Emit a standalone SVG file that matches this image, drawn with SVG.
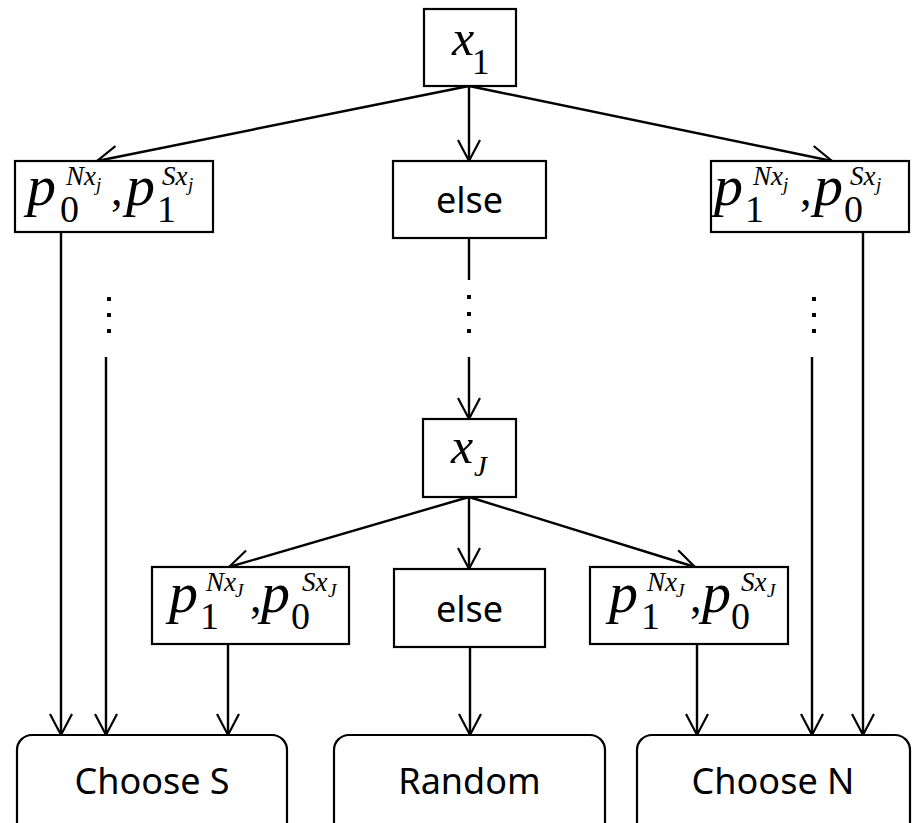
<svg xmlns="http://www.w3.org/2000/svg" width="912" height="823" viewBox="0 0 912 823">
<defs>
<marker id="arr" markerUnits="userSpaceOnUse" markerWidth="26" markerHeight="26" refX="22" refY="12" orient="auto">
<path d="M1,1 L22,12 L1,23" fill="none" stroke="#000" stroke-width="2.2"/>
</marker>
</defs>
<style>
.box{fill:#fff;stroke:#000;stroke-width:2.2}
.rbox{fill:#fff;stroke:#000;stroke-width:2.2}
.ln{stroke:#000;stroke-width:2.4;fill:none}
.ar{stroke:#000;stroke-width:2.4;fill:none;marker-end:url(#arr)}
.m{font-family:"Liberation Serif","Times New Roman",serif;fill:#000}
.i{font-style:italic}
.p{font-style:italic;font-size:58px}
.sb{font-size:38px}
.sp{font-style:italic;font-size:27px}
.ss{font-style:italic;font-size:19px}
.cm{font-size:46px}
.t{font-family:"Noto Sans","Open Sans",sans-serif;font-size:36px;fill:#000;text-anchor:middle}
.dot{fill:#000}
</style>
<g id="connectors">
<line class="ar" x1="469" y1="86" x2="97" y2="161"/>
<line class="ar" x1="469" y1="86" x2="469" y2="161"/>
<line class="ar" x1="469" y1="86" x2="832" y2="161"/>
<line class="ar" x1="61" y1="232" x2="61" y2="735"/>
<line class="ar" x1="106" y1="357" x2="106" y2="735"/>
<line class="ln" x1="469" y1="238" x2="469" y2="280"/>
<line class="ar" x1="469" y1="357" x2="469" y2="419"/>
<line class="ar" x1="812" y1="357" x2="812" y2="735"/>
<line class="ar" x1="863" y1="232" x2="863" y2="735"/>
<line class="ar" x1="469" y1="497" x2="229" y2="567"/>
<line class="ar" x1="469" y1="497" x2="469" y2="569"/>
<line class="ar" x1="469" y1="497" x2="695" y2="567"/>
<line class="ar" x1="228" y1="644" x2="228" y2="735"/>
<line class="ar" x1="470" y1="647" x2="470" y2="735"/>
<line class="ar" x1="697" y1="644" x2="697" y2="735"/>
<rect class="dot" x="107" y="297" width="4" height="4"/>
<rect class="dot" x="107" y="313" width="4" height="4"/>
<rect class="dot" x="107" y="329" width="4" height="4"/>
<rect class="dot" x="467" y="295" width="4" height="4"/>
<rect class="dot" x="467" y="312" width="4" height="4"/>
<rect class="dot" x="467" y="329" width="4" height="4"/>
<rect class="dot" x="812" y="297" width="4" height="4"/>
<rect class="dot" x="812" y="313" width="4" height="4"/>
<rect class="dot" x="812" y="329" width="4" height="4"/>
</g>
<g id="x1">
<rect class="box" x="424" y="9" width="92" height="77"/>
<text class="m"><tspan class="i" x="452" y="55" font-size="50">x</tspan><tspan x="472" y="74" font-size="35">1</tspan></text>
</g>
<g id="pL">
<rect class="box" x="15" y="161" width="198" height="71"/>
<text class="m"><tspan class="p" x="27" y="205">p</tspan><tspan class="sb" x="60" y="222">0</tspan><tspan class="sp" x="66" y="185">Nx</tspan><tspan class="ss" x="96" y="191">j</tspan><tspan class="cm" x="111" y="205">,</tspan><tspan class="p" x="126" y="205">p</tspan><tspan class="sb" x="157" y="222">1</tspan><tspan class="sp" x="162" y="185">Sx</tspan><tspan class="ss" x="188" y="191">j</tspan></text>
</g>
<g id="else1">
<rect class="box" x="393" y="161" width="153" height="77"/>
<text class="t" x="469.5" y="213">else</text>
</g>
<g id="pR">
<rect class="box" x="711" y="161" width="198" height="71"/>
<text class="m"><tspan class="p" x="714" y="205">p</tspan><tspan class="sb" x="745" y="222">1</tspan><tspan class="sp" x="753" y="185">Nx</tspan><tspan class="ss" x="783" y="191">j</tspan><tspan class="cm" x="800" y="205">,</tspan><tspan class="p" x="814" y="205">p</tspan><tspan class="sb" x="844" y="222">0</tspan><tspan class="sp" x="850" y="185">Sx</tspan><tspan class="ss" x="876" y="191">j</tspan></text>
</g>
<g id="xJ">
<rect class="box" x="423" y="419" width="93" height="78"/>
<text class="m"><tspan class="i" x="451" y="463" font-size="50">x</tspan><tspan class="i" x="474" y="476" font-size="29">J</tspan></text>
</g>
<g id="pJL">
<rect class="box" x="152" y="567" width="197" height="77"/>
<text class="m"><tspan class="p" x="169" y="612">p</tspan><tspan class="sb" x="200" y="629">1</tspan><tspan class="sp" x="206" y="591">Nx</tspan><tspan class="ss" x="235" y="597">J</tspan><tspan class="cm" x="250" y="612">,</tspan><tspan class="p" x="261" y="612">p</tspan><tspan class="sb" x="291" y="629">0</tspan><tspan class="sp" x="302" y="591">Sx</tspan><tspan class="ss" x="328" y="597">J</tspan></text>
</g>
<g id="else2">
<rect class="box" x="394" y="569" width="151" height="78"/>
<text class="t" x="469.5" y="622">else</text>
</g>
<g id="pJR">
<rect class="box" x="590" y="567" width="198" height="77"/>
<text class="m"><tspan class="p" x="609" y="612">p</tspan><tspan class="sb" x="641" y="629">1</tspan><tspan class="sp" x="647" y="591">Nx</tspan><tspan class="ss" x="676" y="597">J</tspan><tspan class="cm" x="690" y="612">,</tspan><tspan class="p" x="702" y="612">p</tspan><tspan class="sb" x="731" y="629">0</tspan><tspan class="sp" x="741" y="591">Sx</tspan><tspan class="ss" x="767" y="597">J</tspan></text>
</g>
<g id="chooseS">
<rect class="rbox" x="17" y="735" width="270" height="120" rx="15"/>
<text class="t" x="152" y="794">Choose S</text>
</g>
<g id="random">
<rect class="rbox" x="334" y="735" width="271" height="120" rx="15"/>
<text class="t" x="469.5" y="794">Random</text>
</g>
<g id="chooseN">
<rect class="rbox" x="637" y="735" width="273" height="120" rx="15"/>
<text class="t" x="773" y="794">Choose N</text>
</g>
</svg>
